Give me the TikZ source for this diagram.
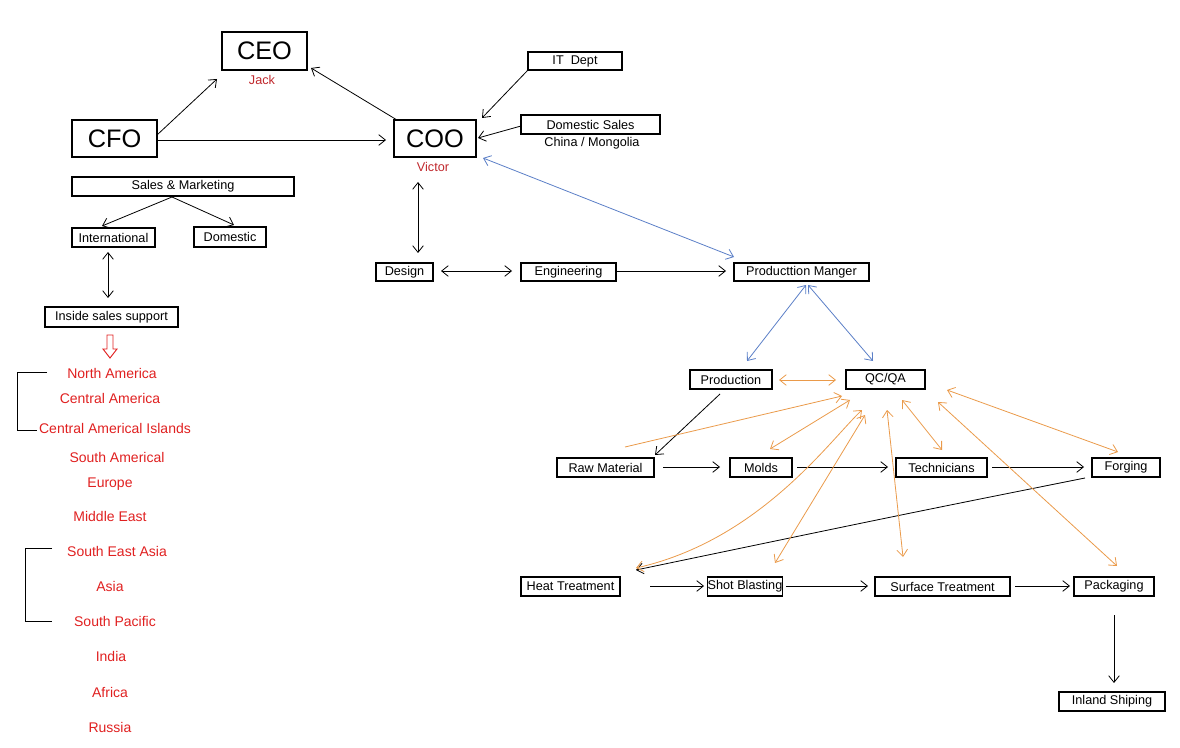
\documentclass[tikz,border=0pt]{standalone}
\usepackage{fontspec}
\setmainfont{Liberation Sans}
\usetikzlibrary{arrows.meta}
\definecolor{org}{HTML}{EA9A4A}
\definecolor{blu}{HTML}{5B7FC7}
\definecolor{rd}{HTML}{E02020}
\definecolor{drd}{HTML}{C0282D}
\begin{document}
\begin{tikzpicture}[x=0.75pt,y=-0.75pt,
 bx/.style={draw,line width=0.9pt,inner sep=0pt,font=\fontsize{9.5}{11}\selectfont},
 big/.style={draw,line width=0.9pt,inner sep=0pt,font=\fontsize{19}{22}\selectfont},
 lb/.style={font=\fontsize{9.5}{11}\selectfont},
 rl/.style={font=\fontsize{10.5}{12}\selectfont,text=rd},
 ar/.style={-{Straight Barb[length=5pt,width=8pt]},line width=0.6pt},
 dar/.style={{Straight Barb[length=5pt,width=8pt]}-{Straight Barb[length=5pt,width=8pt]},line width=0.6pt}]
\useasboundingbox (0,0) rectangle (1180,748);
\def\bb(#1)#2#3#4#5#6{\node[bx,minimum width=#4*0.75pt,minimum height=#5*0.75pt] (#1) at (#2,#3) {#6};}
\node[big,line width=1.6pt,minimum width=63.75pt,minimum height=28.5pt] (ceo) at (264.5,51) {CEO};
\node[lb,text=drd] (jack) at (262,80) {Jack};
\node[big,minimum width=63.75pt,minimum height=27.75pt] (cfo) at (114.5,138.5) {CFO};
\node[big,minimum width=61.5pt,minimum height=27.75pt] (coo) at (435,138.5) {COO};
\node[lb,text=drd] (vic) at (433,167) {Victor};
\bb(it){575}{61}{94}{18}{IT\ \ Dept}
\bb(ds){590.5}{124.5}{139}{19}{Domestic Sales}
\node[lb] (cm) at (592,143) {China / Mongolia};
\bb(sm){183}{186.5}{222}{19}{Sales \& Marketing}
\bb(intl){113.5}{237.5}{83}{19}{International}
\bb(dom){230}{237}{72}{20}{Domestic}
\bb(iss){111.5}{317}{133}{20}{Inside sales support}
\bb(des){404.5}{272}{57}{18}{Design}
\bb(eng){568.5}{272}{95}{18}{Engineering}
\bb(pm){801.5}{272}{135}{18}{Producttion Manger}
\bb(prod){731}{379.5}{82}{19}{Production}
\bb(qc){885.5}{379.5}{79}{19}{QC/QA}
\bb(raw){605.5}{467.5}{97}{19}{Raw Material}
\bb(mol){761}{467.5}{62}{19}{Molds}
\bb(tec){941.5}{467.5}{91}{19}{Technicians}
\bb(frg){1126}{467.5}{68}{19}{Forging}
\bb(ht){570.5}{586.5}{99}{19}{Heat Treatment}
\bb(sb){745}{586.5}{68}{19}{Shot Blasting}
\bb(st){942.5}{586.5}{135}{19}{Surface Treatment}
\bb(pk){1114}{586.5}{80}{19}{Packaging}
\bb(inl){1112}{701.5}{106}{19}{Inland Shiping}
% red list
\foreach \t/\x/\y [count=\i] in {North America/112/373,Central America/110/398,Central Americal Islands/115/428,South Americal/117/457,Europe/110/484,Middle East/110/516,South East Asia/117/551,Asia/110/586,South Pacific/115/621,India/111/656,Africa/110/692,Russia/110/727}
  \node[rl] (r\i) at (\x,\y) {\t};
\draw[line width=0.6pt] (47,372) -- (17,372) -- (17,430) -- (37,430);
\draw[line width=0.6pt] (52,548) -- (25,548) -- (25,621) -- (52,621);
\draw[rd,line width=0.7pt] (107,335) -- (107,349) -- (103,349) -- (110,358) -- (117,349) -- (113,349) -- (113,335) -- cycle;
% black arrows
\draw[ar] (157,135) -- (217,79);
\draw[ar] (397,120) -- (311,68);
\draw[ar] (157,140) -- (386,140);
\draw[ar] (528,70) -- (482,118);
\draw[ar] (521,126) -- (478,138);
\draw[dar] (418,182) -- (418,253);
\draw[dar] (441,271) -- (512,271);
\draw[ar] (616,271) -- (726,271);
\draw[ar] (172,197) -- (102,226);
\draw[ar] (172,197) -- (234,225);
\draw[dar] (108,252) -- (108,298);
\draw[ar] (720,394) -- (655,455);
\draw[ar] (663,467) -- (720,467);
\draw[ar] (797,467) -- (888,467);
\draw[ar] (992,467) -- (1084,467);
\draw[ar] (1085,478) .. controls (900,515) .. (636,570);
\draw[ar] (650,586) -- (704,586);
\draw[ar] (786,586) -- (868,586);
\draw[ar] (1015,586) -- (1070,586);
\draw[ar] (1114,615) -- (1114,683);
% blue
\draw[dar,blu] (483,158) -- (734,257);
\draw[dar,blu] (806,285) -- (747,361);
\draw[dar,blu] (808,285) -- (873,361);
% orange
\draw[dar,org] (779,380) -- (836,380);
\draw[ar,org] (625,447) -- (842,396);
\draw[dar,org] (770,449) -- (850,400);
\draw[dar,org] (636,568) .. controls (760,540) and (830,440) .. (862,410);
\draw[dar,org] (775,563) -- (865,415);
\draw[dar,org] (903,557) -- (887,410);
\draw[dar,org] (942,450) -- (902,400);
\draw[dar,org] (1117,566) -- (938,402);
\draw[dar,org] (1118,452) -- (947,390);
\end{tikzpicture}
\end{document}
